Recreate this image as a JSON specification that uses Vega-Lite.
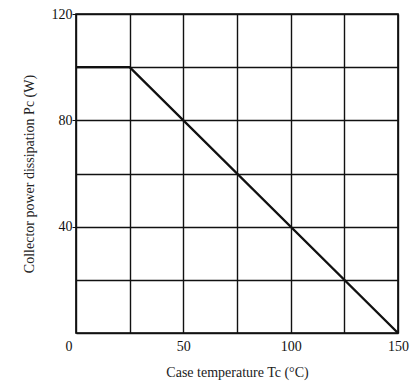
{
  "$schema": "https://vega.github.io/schema/vega-lite/v6.json",
  "autosize": "none",
  "width": 322,
  "height": 319,
  "padding": {"left": 76, "top": 14, "right": 17, "bottom": 48},
  "background": "white",
  "config": {
    "font": "Liberation Serif",
    "view": {"stroke": "black", "strokeWidth": 1.6},
    "axis": {
      "labelFont": "Liberation Serif",
      "titleFont": "Liberation Serif",
      "labelFontSize": 14,
      "titleFontSize": 14,
      "titleFontWeight": "normal",
      "labelColor": "#111",
      "titleColor": "#222",
      "gridColor": "#111",
      "gridWidth": 1.4,
      "gridOpacity": 1,
      "domain": false,
      "tickColor": "#111",
      "tickSize": 4
    }
  },
  "data": {"values": [
    {"t": 0, "p": 100},
    {"t": 25, "p": 100},
    {"t": 150, "p": 0}
  ]},
  "mark": {"type": "line", "color": "#111", "strokeWidth": 2.4},
  "encoding": {
    "x": {
      "field": "t", "type": "quantitative",
      "scale": {"domain": [0, 150], "nice": false},
      "axis": {
        "values": [0, 25, 50, 75, 100, 125, 150],
        "labelExpr": "datum.value % 50 == 0 ? datum.label : ''",
        "ticks": false,
        "labelPadding": 6,
        "labelAlign": {"condition": {"test": "datum.value == 0", "value": "right"}, "value": "center"},
        "labelOffset": {"condition": {"test": "datum.value == 0", "value": -4}, "value": 0},
        "title": "Case temperature Tc (°C)",
        "titlePadding": 12
      }
    },
    "y": {
      "field": "p", "type": "quantitative",
      "scale": {"domain": [0, 120], "nice": false},
      "axis": {
        "values": [0, 20, 40, 60, 80, 100, 120],
        "labelExpr": "datum.value % 40 == 0 && datum.value > 0 ? datum.label : ''",
        "tickOpacity": {"condition": {"test": "datum.value % 40 == 0 && datum.value > 0", "value": 1}, "value": 0},
        "labelPadding": 0,
        "title": "Collector power dissipation  Pc (W)",
        "titlePadding": 15
      }
    }
  }
}
